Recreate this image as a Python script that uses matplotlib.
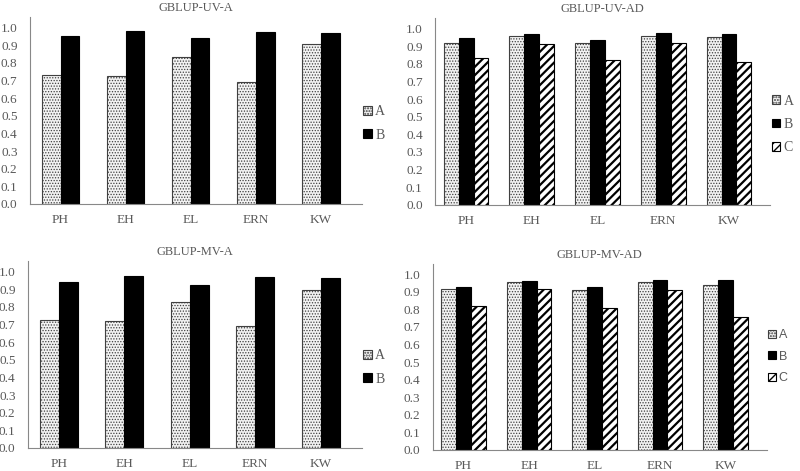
import matplotlib
matplotlib.use('Agg')
import matplotlib.pyplot as plt
import numpy as np

plt.rcParams['font.family'] = ['Liberation Serif', 'DejaVu Serif']

traits = ['PH', 'EH', 'EL', 'ERN', 'KW']

# GBLUP-UV-A
uv_a_A = [0.733, 0.728, 0.835, 0.690, 0.906]
uv_a_B = [0.953, 0.981, 0.938, 0.976, 0.968]

# GBLUP-UV-AD
uv_ad_A = [0.915, 0.957, 0.915, 0.957, 0.949]
uv_ad_B = [0.945, 0.970, 0.932, 0.974, 0.970]
uv_ad_C = [0.831, 0.914, 0.821, 0.917, 0.808]

# GBLUP-MV-A
mv_a_A = [0.726, 0.720, 0.826, 0.689, 0.897]
mv_a_B = [0.940, 0.974, 0.925, 0.968, 0.962]

# GBLUP-MV-AD
mv_ad_A = [0.916, 0.955, 0.910, 0.955, 0.940]
mv_ad_B = [0.929, 0.963, 0.925, 0.966, 0.966]
mv_ad_C = [0.821, 0.916, 0.807, 0.910, 0.755]

txt = '#595959'
styles = {
    'A': dict(facecolor='#f2f2f2', edgecolor='#404040', hatch='......', lw=0.8),
    'B': dict(facecolor='black', edgecolor='black', lw=0.8),
    'C': dict(facecolor='white', edgecolor='black', hatch='////', lw=0.8),
}


def panel(rect, title, series, leg_y=0.5, legend_font=None):
    ax = fig.add_axes(rect)
    x = np.arange(len(traits))
    n = len(series)
    w = 0.287 if n == 2 else 0.227
    for i, (name, vals) in enumerate(series):
        off = (i - (n - 1) / 2) * w
        hlw = 1.6 if name == 'C' else 0.6
        with plt.rc_context({'hatch.linewidth': hlw}):
            ax.bar(x + off, vals, w, label=name, **styles[name])
    ax.set_xlim(-0.47, 4.63)
    ax.set_ylim(0, 1.06)
    ax.set_yticks(np.arange(0, 1.01, 0.1))
    ax.set_yticklabels(['%.1f' % v for v in np.arange(0, 1.01, 0.1)])
    ax.set_xticks(x)
    ax.set_xticklabels(traits)
    ax.tick_params(axis='y', length=0, labelsize=9.5, colors=txt, pad=9)
    ax.tick_params(axis='x', length=0, labelsize=9.5, colors=txt, pad=7)
    for s in ['top', 'right']:
        ax.spines[s].set_visible(False)
    for s in ['left', 'bottom']:
        ax.spines[s].set_color('#888888')
        ax.spines[s].set_linewidth(0.8)
    ax.set_title(title, fontsize=9, color=txt, pad=4)
    prop = {'size': 10}
    if legend_font:
        prop['family'] = legend_font
        prop['size'] = 9
    leg = ax.legend(loc='center left', bbox_to_anchor=(1.0, leg_y), frameon=False,
                    handlelength=0.6, handleheight=0.6, handletextpad=0.25,
                    labelspacing=0.75, prop=prop, borderaxespad=0, borderpad=0.1)
    for t in leg.get_texts():
        t.set_color(txt)
    return ax


fig = plt.figure(figsize=(8, 4.71), dpi=100)

panel([0.0375, 0.567, 0.415, 0.397], 'GBLUP-UV-A',
      [('A', uv_a_A), ('B', uv_a_B)], leg_y=0.43)
panel([0.544, 0.565, 0.419, 0.397], 'GBLUP-UV-AD',
      [('A', uv_ad_A), ('B', uv_ad_B), ('C', uv_ad_C)], leg_y=0.43)
panel([0.035, 0.049, 0.4175, 0.397], 'GBLUP-MV-A',
      [('A', mv_a_A), ('B', mv_a_B)], leg_y=0.43)
panel([0.541, 0.045, 0.4175, 0.395], 'GBLUP-MV-AD',
      [('A', mv_ad_A), ('B', mv_ad_B), ('C', mv_ad_C)], leg_y=0.5,
      legend_font='Liberation Sans')

fig.savefig('out.png', dpi=100)
